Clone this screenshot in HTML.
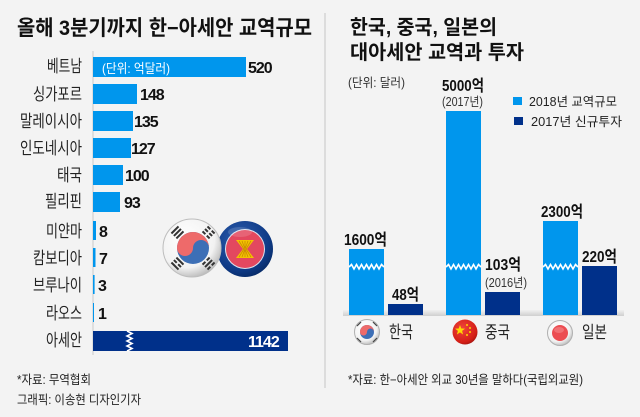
<!DOCTYPE html>
<html><head><meta charset="utf-8">
<style>
html,body{margin:0;padding:0;background:#f3f3f3;}
svg{display:block;}
text{font-family:"Liberation Sans","Noto Sans CJK KR",sans-serif;}
</style></head>
<body>
<svg width="640" height="417" viewBox="0 0 640 417" xmlns="http://www.w3.org/2000/svg">
<defs>
  <radialGradient id="wht" cx="40%" cy="35%" r="70%">
    <stop offset="0" stop-color="#ffffff"/>
    <stop offset="0.7" stop-color="#f2f2f2"/>
    <stop offset="1" stop-color="#b5b5b5"/>
  </radialGradient>
  <radialGradient id="asb" cx="40%" cy="35%" r="70%">
    <stop offset="0" stop-color="#2f5fb0"/>
    <stop offset="0.75" stop-color="#0e3a86"/>
    <stop offset="1" stop-color="#072a66"/>
  </radialGradient>
  <radialGradient id="cnr" cx="40%" cy="35%" r="70%">
    <stop offset="0" stop-color="#f0443a"/>
    <stop offset="0.8" stop-color="#d41e16"/>
    <stop offset="1" stop-color="#a01410"/>
  </radialGradient>
  <linearGradient id="base" x1="0" y1="0" x2="0" y2="1">
    <stop offset="0" stop-color="#f0f0f0"/>
    <stop offset="1" stop-color="#cfcfcf"/>
  </linearGradient>
</defs>

<rect width="640" height="417" fill="#f3f3f3"/>

<!-- divider -->
<rect x="324" y="13" width="2" height="375" fill="#dcdcdc"/>

<!-- LEFT TITLE -->
<text x="17" y="35" font-size="21" font-weight="bold" fill="#111" textLength="295" lengthAdjust="spacingAndGlyphs">올해 3분기까지 한−아세안 교역규모</text>

<!-- axis -->
<rect x="92" y="51" width="2" height="304" fill="#dedede"/>

<!-- bars -->
<g fill="#0096ed">
  <rect x="93" y="57" width="153" height="20"/>
  <rect x="93" y="84" width="44" height="20"/>
  <rect x="93" y="111" width="40" height="20"/>
  <rect x="93" y="138" width="38" height="20"/>
  <rect x="93" y="165" width="30" height="20"/>
  <rect x="93" y="192" width="27" height="20"/>
  <rect x="93" y="221" width="3" height="19"/>
  <rect x="93" y="248" width="2.5" height="19"/>
  <rect x="93" y="275" width="1.6" height="19"/>
  <rect x="93" y="303" width="1" height="19"/>
</g>
<rect x="93" y="331" width="195" height="20" fill="#00308a"/>
<polyline points="127,331 132,333.5 127,336 132,338.5 127,341 132,343.5 127,346 132,348.5 127,351" fill="none" stroke="#fff" stroke-width="1.6"/>

<text x="102" y="73" font-size="13" fill="#fff" textLength="68" lengthAdjust="spacingAndGlyphs">(단위: 억달러)</text>

<!-- category labels -->
<g font-size="17" fill="#222" text-anchor="end">
  <text x="82" y="72" textLength="35" lengthAdjust="spacingAndGlyphs">베트남</text>
  <text x="82" y="100" textLength="49" lengthAdjust="spacingAndGlyphs">싱가포르</text>
  <text x="82" y="127" textLength="62" lengthAdjust="spacingAndGlyphs">말레이시아</text>
  <text x="82" y="154" textLength="62" lengthAdjust="spacingAndGlyphs">인도네시아</text>
  <text x="82" y="181" textLength="25" lengthAdjust="spacingAndGlyphs">태국</text>
  <text x="82" y="207" textLength="37" lengthAdjust="spacingAndGlyphs">필리핀</text>
  <text x="82" y="237" textLength="36" lengthAdjust="spacingAndGlyphs">미얀마</text>
  <text x="82" y="264" textLength="49" lengthAdjust="spacingAndGlyphs">캄보디아</text>
  <text x="82" y="291" textLength="49" lengthAdjust="spacingAndGlyphs">브루나이</text>
  <text x="82" y="319" textLength="36" lengthAdjust="spacingAndGlyphs">라오스</text>
  <text x="82" y="346" textLength="36" lengthAdjust="spacingAndGlyphs">아세안</text>
</g>

<!-- value labels -->
<g font-size="16" font-weight="bold" fill="#111" letter-spacing="-1">
  <text x="248" y="73">520</text>
  <text x="140" y="100">148</text>
  <text x="134" y="127">135</text>
  <text x="131" y="154">127</text>
  <text x="125" y="181">100</text>
  <text x="124" y="208">93</text>
  <text x="99" y="237">8</text>
  <text x="99" y="264">7</text>
  <text x="98" y="291">3</text>
  <text x="98" y="319">1</text>
</g>
<text x="248" y="347" font-size="16" font-weight="bold" fill="#fff" letter-spacing="-1">1142</text>

<!-- ASEAN flag -->
<circle cx="245" cy="249" r="28" fill="url(#asb)"/>
<circle cx="245" cy="249" r="20" fill="#fff" opacity="0.85"/>
<circle cx="245" cy="249" r="19" fill="#e3485f"/>
<g fill="#f3c200">
  <polygon points="236,240 254,240 247,249 254,258 236,258 243,249"/>
</g>
<g stroke="#c98a00" stroke-width="0.8">
  <line x1="239" y1="241" x2="244" y2="249"/><line x1="242" y1="241" x2="245" y2="249"/>
  <line x1="245" y1="241" x2="245" y2="257"/><line x1="248" y1="241" x2="245" y2="249"/>
  <line x1="251" y1="241" x2="246" y2="249"/>
  <line x1="239" y1="257" x2="244" y2="249"/><line x1="242" y1="257" x2="245" y2="249"/>
  <line x1="248" y1="257" x2="245" y2="249"/><line x1="251" y1="257" x2="246" y2="249"/>
</g>
<ellipse cx="240" cy="232" rx="12" ry="5" fill="#fff" opacity="0.15"/>

<!-- Korea flag big -->
<circle cx="192" cy="248" r="29" fill="url(#wht)" stroke="#bdbdbd" stroke-width="1"/>
<circle cx="193" cy="248" r="16" fill="#3d6fb6"/>
<path d="M177,248 A16,16 0 0 1 209,248 A8,8 0 0 0 193,248 A8,8 0 0 1 177,248 Z" fill="#ee6a6a"/>
<g fill="#333">
  <g transform="translate(193,248) rotate(-45) translate(0,-22)">
    <rect x="-5" y="-4.5" width="10" height="2"/><rect x="-5" y="-1" width="10" height="2"/><rect x="-5" y="2.5" width="10" height="2"/>
  </g>
  <g transform="translate(193,248) rotate(45) translate(0,-22)">
    <rect x="-5" y="-4.5" width="4" height="2"/><rect x="1" y="-4.5" width="4" height="2"/><rect x="-5" y="-1" width="4" height="2"/><rect x="1" y="-1" width="4" height="2"/><rect x="-5" y="2.5" width="4" height="2"/><rect x="1" y="2.5" width="4" height="2"/>
  </g>
  <g transform="translate(193,248) rotate(-135) translate(0,-22)">
    <rect x="-5" y="-4.5" width="10" height="2"/><rect x="-5" y="-1" width="4" height="2"/><rect x="1" y="-1" width="4" height="2"/><rect x="-5" y="2.5" width="10" height="2"/>
  </g>
  <g transform="translate(193,248) rotate(135) translate(0,-22)">
    <rect x="-5" y="-4.5" width="4" height="2"/><rect x="1" y="-4.5" width="4" height="2"/><rect x="-5" y="-1" width="10" height="2"/><rect x="-5" y="2.5" width="4" height="2"/><rect x="1" y="2.5" width="4" height="2"/>
  </g>
</g>

<!-- left footnotes -->
<text x="17" y="384" font-size="12.5" fill="#222" textLength="74" lengthAdjust="spacingAndGlyphs">*자료: 무역협회</text>
<text x="17" y="404" font-size="12.5" fill="#222" textLength="124" lengthAdjust="spacingAndGlyphs">그래픽: 이송현 디자인기자</text>

<!-- RIGHT TITLE -->
<text x="350" y="34" font-size="20" font-weight="bold" fill="#111" textLength="147" lengthAdjust="spacingAndGlyphs">한국, 중국, 일본의</text>
<text x="350" y="59" font-size="20" font-weight="bold" fill="#111" textLength="174" lengthAdjust="spacingAndGlyphs">대아세안 교역과 투자</text>

<text x="348" y="87" font-size="12.5" fill="#333" textLength="57" lengthAdjust="spacingAndGlyphs">(단위: 달러)</text>

<!-- legend -->
<rect x="513" y="97" width="9" height="8" fill="#0096ed"/>
<text x="529" y="106" font-size="12.5" fill="#222" textLength="88" lengthAdjust="spacingAndGlyphs">2018년 교역규모</text>
<rect x="514" y="117" width="9" height="8" fill="#00308a"/>
<text x="531" y="126" font-size="12.5" fill="#222" textLength="91" lengthAdjust="spacingAndGlyphs">2017년 신규투자</text>

<!-- baseline -->
<rect x="343" y="310" width="281" height="6" fill="url(#base)"/>

<!-- right bars -->
<g fill="#0096ed">
  <rect x="349" y="249" width="35" height="66"/>
  <rect x="446" y="111" width="35" height="204"/>
  <rect x="543" y="221" width="35" height="94"/>
</g>
<g fill="#00308a">
  <rect x="388" y="304" width="35" height="11"/>
  <rect x="485" y="292" width="35" height="23"/>
  <rect x="582" y="266" width="35" height="49"/>
</g>
<g fill="none" stroke="#fff" stroke-width="1.6">
  <polyline points="349,267 351.5,264.5 354,269 356.5,264.5 359,269 361.5,264.5 364,269 366.5,264.5 369,269 371.5,264.5 374,269 376.5,264.5 379,269 381.5,264.5 384,267"/>
  <polyline points="446,267 448.5,264.5 451,269 453.5,264.5 456,269 458.5,264.5 461,269 463.5,264.5 466,269 468.5,264.5 471,269 473.5,264.5 476,269 478.5,264.5 481,267"/>
  <polyline points="543,267 545.5,264.5 548,269 550.5,264.5 553,269 555.5,264.5 558,269 560.5,264.5 563,269 565.5,264.5 568,269 570.5,264.5 573,269 575.5,264.5 578,267"/>
</g>

<!-- right value labels -->
<g font-size="16" font-weight="bold" fill="#111">
  <text x="344" y="245" textLength="43" lengthAdjust="spacingAndGlyphs">1600억</text>
  <text x="392" y="300" textLength="27" lengthAdjust="spacingAndGlyphs">48억</text>
  <text x="442" y="91" textLength="42" lengthAdjust="spacingAndGlyphs">5000억</text>
  <text x="485" y="270" textLength="36" lengthAdjust="spacingAndGlyphs">103억</text>
  <text x="541" y="217" textLength="42" lengthAdjust="spacingAndGlyphs">2300억</text>
  <text x="582" y="262" textLength="35" lengthAdjust="spacingAndGlyphs">220억</text>
</g>
<text x="442" y="106" font-size="12.5" fill="#333" textLength="41" lengthAdjust="spacingAndGlyphs">(2017년)</text>
<text x="485" y="287" font-size="12.5" fill="#333" textLength="42" lengthAdjust="spacingAndGlyphs">(2016년)</text>

<!-- small flags -->
<!-- Korea -->
<circle cx="367" cy="332" r="12.5" fill="url(#wht)" stroke="#b0b0b0" stroke-width="1"/>
<circle cx="367" cy="332" r="7" fill="#3d6fb6"/>
<path d="M360,332 A7,7 0 0 1 374,332 A3.5,3.5 0 0 0 367,332 A3.5,3.5 0 0 1 360,332 Z" fill="#ee6a6a"/>
<g stroke="#444" stroke-width="1.2">
  <line x1="357" y1="326" x2="361" y2="322"/><line x1="373" y1="322" x2="377" y2="326"/>
  <line x1="357" y1="338" x2="361" y2="342"/><line x1="373" y1="342" x2="377" y2="338"/>
</g>
<!-- China -->
<circle cx="465" cy="332" r="12.5" fill="url(#cnr)"/>
<polygon points="460,325 461.3,328.5 465,328.6 462.1,330.9 463.1,334.5 460,332.4 456.9,334.5 457.9,330.9 455,328.6 458.7,328.5" fill="#ffd800"/>
<circle cx="467" cy="325" r="1" fill="#ffd800"/>
<circle cx="470" cy="328" r="1" fill="#ffd800"/>
<circle cx="470" cy="332" r="1" fill="#ffd800"/>
<circle cx="467" cy="335" r="1" fill="#ffd800"/>
<!-- Japan -->
<circle cx="560" cy="333" r="12.5" fill="url(#wht)" stroke="#b0b0b0" stroke-width="1"/>
<circle cx="560" cy="333" r="8" fill="#ec4d52"/>
<ellipse cx="559" cy="330" rx="5" ry="3" fill="#f58a8c" opacity="0.6"/>

<g font-size="17" fill="#222">
  <text x="389" y="338" textLength="24" lengthAdjust="spacingAndGlyphs">한국</text>
  <text x="485" y="338" textLength="25" lengthAdjust="spacingAndGlyphs">중국</text>
  <text x="582" y="338" textLength="25" lengthAdjust="spacingAndGlyphs">일본</text>
</g>

<text x="348" y="384" font-size="12.5" fill="#222" textLength="235" lengthAdjust="spacingAndGlyphs">*자료: 한−아세안 외교 30년을 말하다(국립외교원)</text>
</svg>
</body></html>
